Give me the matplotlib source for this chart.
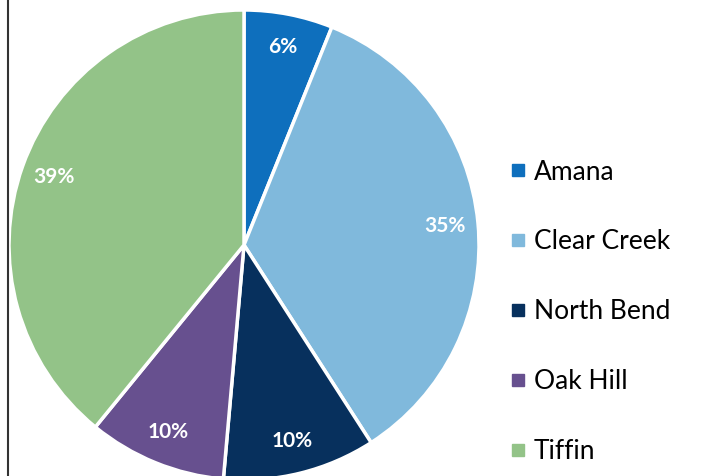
import matplotlib
matplotlib.use("Agg")
import matplotlib.pyplot as plt
from matplotlib.lines import Line2D

schools = ["Amana", "Clear Creek", "North Bend", "Oak Hill", "Tiffin"]
shares = [6.1, 34.8, 10.5, 9.5, 39.1]
colors = ["#0E6FBD", "#80B9DC", "#07305D", "#67508F", "#93C388"]

plt.rcParams['font.family'] = ['Lato', 'DejaVu Sans']

fig = plt.figure(figsize=(7.13, 4.76), dpi=100)
# pie centre ~ (244,245) px, radius ~235 px
ax = fig.add_axes([(244 - 235) / 713, (476 - 245 - 235) / 476, 470 / 713, 470 / 476])
wedges, texts, autotexts = ax.pie(
    shares, colors=colors, startangle=90, counterclock=False,
    autopct='%.0f%%', pctdistance=0.86,
    wedgeprops=dict(edgecolor='white', linewidth=2.5),
    textprops=dict(color='white', fontsize=15, fontweight='bold'))
ax.set_xlim(-1, 1)
ax.set_ylim(-1, 1)
ax.set_aspect('equal')

# left frame line
fig.add_artist(Line2D([7.5 / 713, 7.5 / 713], [0, 1], color='#333333', lw=1.5))

handles = [Line2D([], [], marker='s', ls='', markersize=8, color=c) for c in colors]
fig.legend(handles, schools, loc='upper left', bbox_to_anchor=(497 / 713, 1 - 149 / 476),
           frameon=False, fontsize=19, labelspacing=1.7, handletextpad=0.2,
           handlelength=0.8, borderaxespad=0)

fig.savefig("out.png", dpi=100)
